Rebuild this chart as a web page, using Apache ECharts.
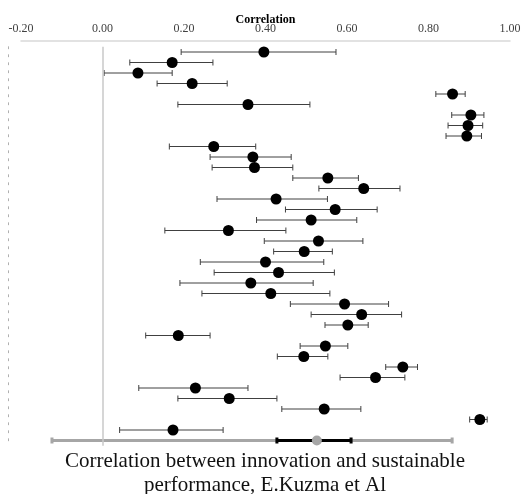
<!DOCTYPE html>
<html>
<head>
<meta charset="utf-8">
<script src="https://cdn.jsdelivr.net/npm/echarts@6/dist/echarts.min.js"></script>
<style>
html,body{margin:0;padding:0;background:#fff;}
#chart{width:530px;height:494px;}
</style>
</head>
<body>
<div id="chart"></div>
<script>
// ---- data ----
var studies = ['S1','S2','S3','S4','S5','S6','S7','S8','S9','S10','S11','S12','S13','S14','S15','S16','S17','S18','S19','S20','S21','S22','S23','S24','S25','S26','S27','S28','S29','S30','S31','S32','S33','S34','S35','S36','S37','Summary'];
var corr  = [0.396,0.171,0.087,0.220,0.859,0.357,0.904,0.897,0.894,0.273,0.369,0.373,0.553,0.641,0.426,0.571,0.512,0.309,0.530,0.495,0.400,0.432,0.364,0.413,0.594,0.636,0.602,0.186,0.547,0.494,0.737,0.670,0.228,0.311,0.544,0.926,0.173];
var lower = [0.193,0.067,0.004,0.134,0.818,0.185,0.857,0.848,0.843,0.164,0.264,0.269,0.467,0.531,0.281,0.449,0.378,0.153,0.397,0.420,0.240,0.274,0.190,0.244,0.461,0.512,0.546,0.106,0.485,0.429,0.695,0.583,0.089,0.185,0.440,0.901,0.042];
var upper = [0.573,0.271,0.171,0.306,0.890,0.509,0.936,0.933,0.930,0.376,0.463,0.467,0.628,0.730,0.552,0.674,0.624,0.450,0.639,0.564,0.543,0.569,0.517,0.558,0.702,0.734,0.652,0.264,0.602,0.553,0.773,0.742,0.357,0.428,0.634,0.944,0.296];
var summaryEst = 0.526;
var summaryCI = [0.428, 0.610];
var summaryPI = [-0.124, 0.858];
var xTicks = [-0.2, 0.0, 0.2, 0.4, 0.6, 0.8, 1.0];

// ---- build ----
var whiskerData = [];
var dotData = [];
for (var i = 0; i < corr.length; i++) {
  whiskerData.push([lower[i], upper[i], studies[i]]);
  dotData.push([corr[i], studies[i]]);
}
var sumName = studies[studies.length - 1];

function capLine(color, width, capH) {
  return function (params, api) {
    var p1 = api.coord([api.value(0), api.value(2)]);
    var p2 = api.coord([api.value(1), api.value(2)]);
    var st = {stroke: color, lineWidth: width};
    return {
      type: 'group',
      children: [
        {type: 'line', shape: {x1: p1[0], y1: p1[1], x2: p2[0], y2: p2[1]}, style: st},
        {type: 'line', shape: {x1: p1[0], y1: p1[1] - capH, x2: p1[0], y2: p1[1] + capH}, style: st},
        {type: 'line', shape: {x1: p2[0], y1: p2[1] - capH, x2: p2[0], y2: p2[1] + capH}, style: st}
      ]
    };
  };
}

var chart = echarts.init(document.getElementById('chart'), null, {renderer: 'canvas'});
chart.setOption({
  animation: false,
  backgroundColor: '#fff',
  title: {
    text: 'Correlation between innovation and sustainable\nperformance, E.Kuzma et Al',
    left: 'center',
    top: 444,
    textStyle: {fontFamily: 'Liberation Serif', fontSize: 21, fontWeight: 'normal', color: '#111', lineHeight: 24}
  },
  grid: {left: 21, right: 20, top: 46.75, height: 399, containLabel: false},
  xAxis: {
    type: 'value',
    position: 'top',
    min: xTicks[0],
    max: xTicks[xTicks.length - 1],
    interval: 0.2,
    offset: 5.75,
    name: 'Correlation',
    nameLocation: 'middle',
    nameGap: 15,
    nameMoveOverlap: false,
    nameTextStyle: {fontFamily: 'Liberation Serif', fontSize: 12, fontWeight: 'bold', color: '#000'},
    axisLine: {show: true, lineStyle: {color: '#d9d9d9', width: 1.5}},
    axisTick: {show: false},
    axisLabel: {
      margin: 6,
      fontFamily: 'Liberation Serif', fontSize: 12, color: '#404040',
      formatter: function (v) { return v.toFixed(2); }
    },
    splitLine: {show: false}
  },
  yAxis: {
    type: 'category',
    inverse: true,
    data: studies,
    offset: 13,
    axisLine: {show: true, onZero: false, lineStyle: {color: '#b0b0b0', type: [2, 6], width: 1}},
    axisTick: {show: false},
    axisLabel: {show: false},
    splitLine: {show: false}
  },
  series: [
    {
      type: 'custom',
      renderItem: capLine('#404040', 1, 3),
      data: whiskerData,
      encode: {x: [0, 1], y: 2},
      z: 2,
      silent: true
    },
    {
      type: 'custom',
      renderItem: capLine('#a6a6a6', 3, 3),
      data: [[summaryPI[0], summaryPI[1], sumName]],
      encode: {x: [0, 1], y: 2},
      z: 2,
      silent: true
    },
    {
      type: 'custom',
      renderItem: capLine('#000000', 3, 3),
      data: [[summaryCI[0], summaryCI[1], sumName]],
      encode: {x: [0, 1], y: 2},
      z: 3,
      silent: true
    },
    {
      type: 'scatter',
      data: dotData,
      symbol: 'circle',
      symbolSize: 11,
      itemStyle: {color: '#000', opacity: 1},
      z: 4,
      silent: true,
      markLine: {
        silent: true,
        symbol: 'none',
        label: {show: false},
        lineStyle: {color: '#c8c8c8', width: 1.5, type: 'solid'},
        data: [{xAxis: 0}]
      }
    },
    {
      type: 'scatter',
      data: [[summaryEst, sumName]],
      symbol: 'circle',
      symbolSize: 10,
      itemStyle: {color: '#a6a6a6', opacity: 1},
      z: 5,
      silent: true
    }
  ]
});
</script>
</body>
</html>
